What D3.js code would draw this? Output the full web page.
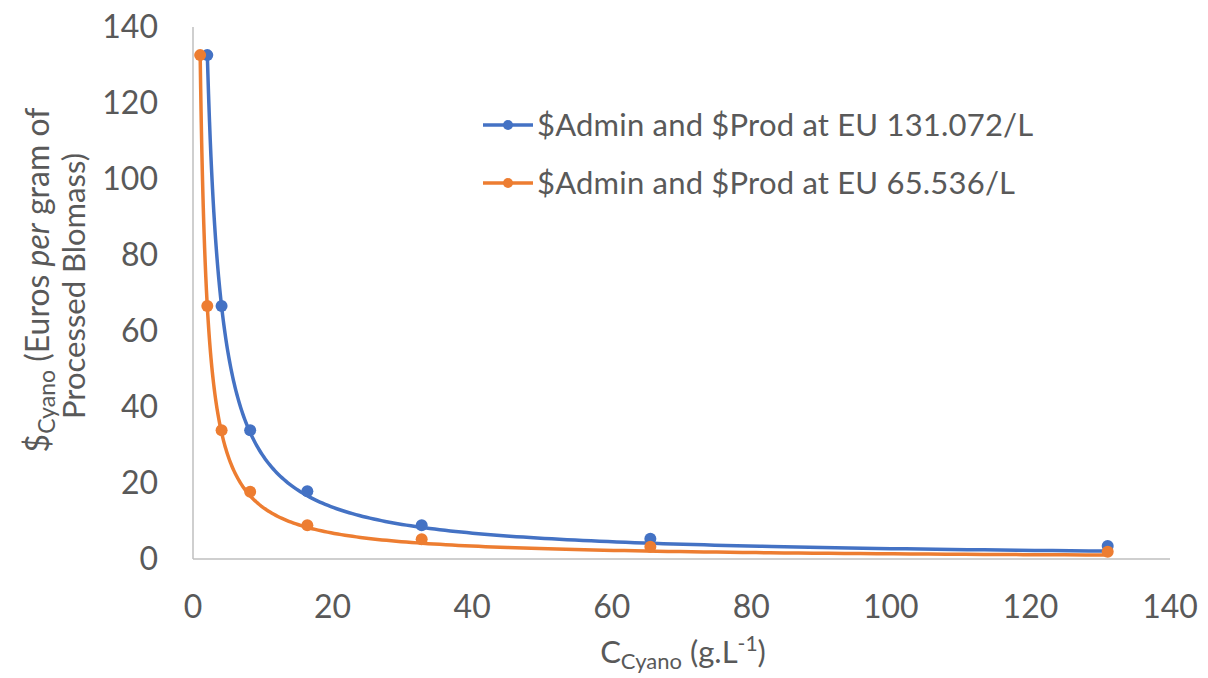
<!DOCTYPE html>
<html>
<head>
<meta charset="utf-8">
<script src="https://cdn.jsdelivr.net/npm/d3@7"></script>
<style>
  body { margin: 0; background: #fff; }
  svg text { font-family: Lato, "Open Sans", sans-serif; fill: #595959; }
</style>
</head>
<body>
<svg id="chart" width="1208" height="678"></svg>
<script>
// data
var blueX = [2.048, 4.096, 8.192, 16.384, 32.768, 65.536, 131.072];
var blueY = [132.6, 66.6, 33.9, 17.8, 8.9, 5.3, 3.4];
var orangeX = [1.024, 2.048, 4.096, 8.192, 16.384, 32.768, 65.536, 131.072];
var orangeY = [132.6, 66.6, 33.9, 17.7, 8.9, 5.2, 3.2, 1.9];
var seriesNames = ["$Admin and $Prod at EU 131.072/L", "$Admin and $Prod at EU 65.536/L"];
var xTicks = [0, 20, 40, 60, 80, 100, 120, 140];
var yTicks = [0, 20, 40, 60, 80, 100, 120, 140];

var colors = ["#4472C4", "#ED7D31"];

var svg = d3.select("#chart");
var x = d3.scaleLinear().domain([0, 140]).range([193, 1170]);
var y = d3.scaleLinear().domain([0, 140]).range([559, 27]);

// axis lines (no ticks, no grid)
svg.append("line")
  .attr("x1", x(0)).attr("x2", x(0))
  .attr("y1", y(0)).attr("y2", y(140))
  .attr("stroke", "#bfbfbf").attr("stroke-width", 1.5);
svg.append("line")
  .attr("x1", x(0)).attr("x2", x(140))
  .attr("y1", y(0)).attr("y2", y(0))
  .attr("stroke", "#bfbfbf").attr("stroke-width", 1.5);

svg.selectAll(".ytick")
  .data(yTicks)
  .enter()
  .append("text")
  .attr("class", "ytick")
  .attr("x", 158)
  .attr("y", function(d) { return y(d) + 11; })
  .attr("text-anchor", "end")
  .style("font-size", "32px")
  .text(function(d) { return d; });

svg.selectAll(".xtick")
  .data(xTicks)
  .enter()
  .append("text")
  .attr("class", "xtick")
  .attr("x", function(d) { return x(d); })
  .attr("y", 618)
  .attr("text-anchor", "middle")
  .style("font-size", "32px")
  .text(function(d) { return d; });

// trendline: least squares fit of y = k / x
function fitCurve(xs, ys) {
  var num = d3.sum(xs, function(v, i) { return ys[i] / v; });
  var den = d3.sum(xs, function(v) { return 1 / (v * v); });
  var k = num / den;
  var x0 = d3.min(xs), x1 = d3.max(xs);
  var pts = d3.range(0, 201).map(function(i) {
    var xv = x0 * Math.pow(x1 / x0, i / 200);
    return [xv, k / xv];
  });
  return pts;
}

var line = d3.line()
  .x(function(d) { return x(d[0]); })
  .y(function(d) { return y(d[1]); });

var series = [
  { xs: blueX, ys: blueY, color: colors[0] },
  { xs: orangeX, ys: orangeY, color: colors[1] }
];

series.forEach(function(s) {
  svg.append("path")
    .attr("d", line(fitCurve(s.xs, s.ys)))
    .attr("fill", "none")
    .attr("stroke", s.color)
    .attr("stroke-width", 3.5);
});

series.forEach(function(s) {
  svg.selectAll(null)
    .data(s.xs)
    .enter()
    .append("circle")
    .attr("cx", function(d) { return x(d); })
    .attr("cy", function(d, i) { return y(s.ys[i]); })
    .attr("r", 6)
    .attr("fill", s.color);
});

// legend
var legendY = [125, 183];
seriesNames.forEach(function(name, i) {
  svg.append("line")
    .attr("x1", 483).attr("x2", 533)
    .attr("y1", legendY[i]).attr("y2", legendY[i])
    .attr("stroke", colors[i]).attr("stroke-width", 3.5);
  svg.append("circle")
    .attr("cx", 508).attr("cy", legendY[i]).attr("r", 5)
    .attr("fill", colors[i]);
  svg.append("text")
    .attr("x", 537)
    .attr("y", legendY[i] + 11)
    .style("font-size", "31px")
    .style("letter-spacing", "0.2px")
    .text(name);
});

// y axis title
var yt1 = svg.append("text")
  .attr("transform", "translate(49,280) rotate(-90)")
  .attr("text-anchor", "middle")
  .style("font-size", "32px");
yt1.append("tspan").text("$");
yt1.append("tspan").attr("dy", 6).style("font-size", "23px").text("Cyano");
yt1.append("tspan").attr("dy", -6).text(" (Euros ");
yt1.append("tspan").style("font-style", "italic").text("per");
yt1.append("tspan").text(" gram of");

svg.append("text")
  .attr("transform", "translate(85,286) rotate(-90)")
  .attr("text-anchor", "middle")
  .style("font-size", "31px")
  .text("Processed Blomass)");

// x axis title
var xt = svg.append("text")
  .attr("x", 683)
  .attr("y", 663)
  .attr("text-anchor", "middle")
  .style("font-size", "31px");
xt.append("tspan").text("C");
xt.append("tspan").attr("dy", 6).style("font-size", "22px").text("Cyano");
xt.append("tspan").attr("dy", -6).text(" (g.L");
xt.append("tspan").attr("dy", -12).style("font-size", "21px").text("-1");
xt.append("tspan").attr("dy", 12).text(")");
</script>
</body>
</html>
